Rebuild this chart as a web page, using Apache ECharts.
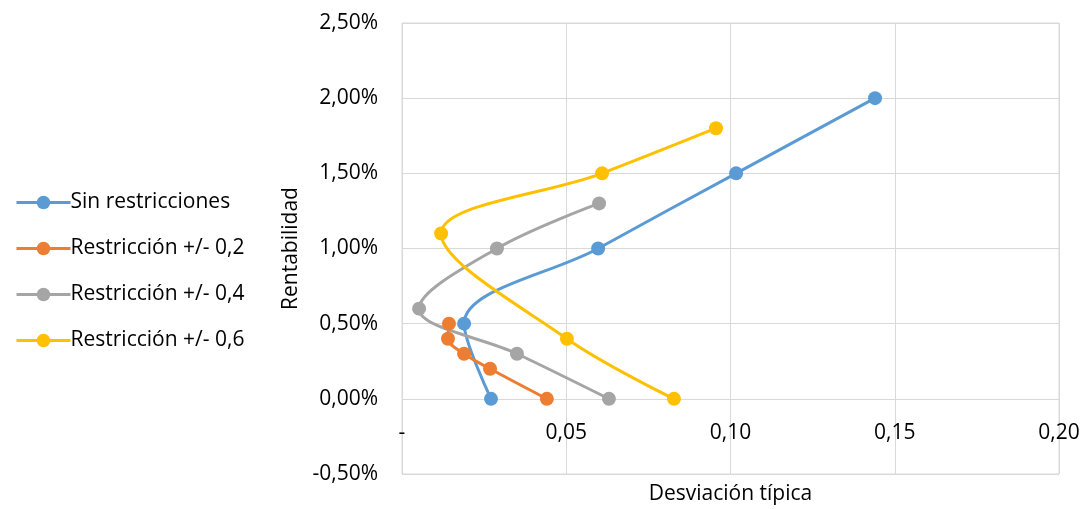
<!DOCTYPE html>
<html>
<head>
<meta charset="utf-8">
<script src="https://cdn.jsdelivr.net/npm/echarts@6/dist/echarts.min.js"></script>
<style>html,body{margin:0;padding:0;background:#fff}#c{width:1089px;height:509px}</style>
</head>
<body>
<div id="c"></div>
<script>
const seriesNames = ['Sin restricciones', 'Restricción +/- 0,2', 'Restricción +/- 0,4', 'Restricción +/- 0,6'];
const colors = ['#5B9BD5', '#ED7D31', '#A5A5A5', '#FFC000'];
// desviación típica (x), rentabilidad in % (y)
const sinX = [0.0271, 0.0189, 0.0597, 0.1017, 0.1440];
const sinY = [0.0, 0.5, 1.0, 1.5, 2.0];
const r02X = [0.0441, 0.0268, 0.0189, 0.0140, 0.0143];
const r02Y = [0.0, 0.2, 0.3, 0.4, 0.5];
const r04X = [0.0630, 0.0350, 0.0052, 0.0289, 0.0600];
const r04Y = [0.0, 0.3, 0.6, 1.0, 1.3];
const r06X = [0.0828, 0.0502, 0.0119, 0.0609, 0.0956];
const r06Y = [0.0, 0.4, 1.1, 1.5, 1.8];

const xs = [sinX, r02X, r04X, r06X];
const ys = [sinY, r02Y, r04Y, r06Y];

const font = '"Open Sans", "Liberation Sans", sans-serif';
const fs = 21;
const chart = echarts.init(document.getElementById('c'), null, {renderer: 'canvas'});
chart.setOption({
  animation: false,
  backgroundColor: '#fff',
  color: colors,
  textStyle: {fontFamily: font},
  legend: {
    orient: 'vertical',
    left: 10,
    top: 187,
    itemWidth: 54,
    itemHeight: 17,
    itemGap: 25,
    lineStyle: {width: 3},
    textStyle: {fontSize: fs, color: '#000', fontFamily: font, padding: [0, 0, 0, -5]},
    data: seriesNames
  },
  grid: {left: 402, right: 30, top: 23, bottom: 35, show: true, borderColor: '#d9d9d9', borderWidth: 1,
         containLabel: false, outerBoundsMode: 'none'},
  xAxis: {
    type: 'value', min: 0, max: 0.2, interval: 0.05,
    position: 'bottom',
    name: 'Desviación típica', nameLocation: 'middle', nameGap: 10,
    nameTextStyle: {fontSize: fs, color: '#000', fontFamily: font, verticalAlign: 'top'},
    axisLine: {show: false, onZero: false},
    axisTick: {show: false},
    axisLabel: {fontSize: fs, color: '#000', margin: -51, verticalAlign: 'top', fontFamily: font,
      formatter: v => v === 0 ? '-' : v.toFixed(2).replace('.', ',')},
    splitLine: {show: true, lineStyle: {color: '#d9d9d9'}}
  },
  yAxis: {
    type: 'value', min: -0.5, max: 2.5, interval: 0.5,
    name: 'Rentabilidad', nameLocation: 'middle', nameGap: 100,
    nameTextStyle: {fontSize: fs, color: '#000', fontFamily: font},
    axisLine: {show: false, onZero: false},
    axisTick: {show: false},
    axisLabel: {fontSize: fs, color: '#000', margin: 24, fontFamily: font,
      formatter: v => v.toFixed(2).replace('.', ',') + '%'},
    splitLine: {show: true, lineStyle: {color: '#d9d9d9'}}
  },
  series: seriesNames.map((n, i) => ({
    name: n,
    type: 'line',
    smooth: 0.35,
    symbol: 'circle',
    symbolSize: 14,
    lineStyle: {width: 3, color: colors[i]},
    itemStyle: {color: colors[i]},
    data: xs[i].map((x, j) => [x, ys[i][j]])
  }))
});
</script>
</body>
</html>
